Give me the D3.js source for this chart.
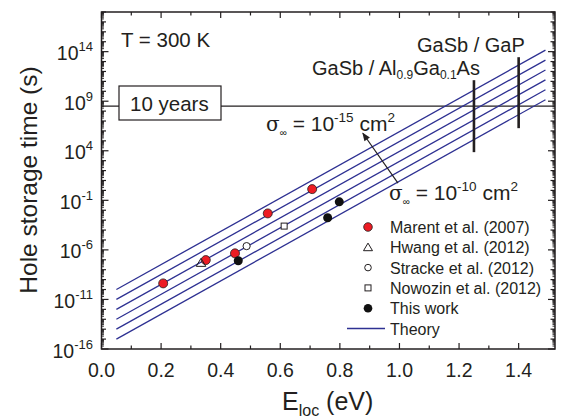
<!DOCTYPE html>
<html>
<head>
<meta charset="utf-8">
<script src="https://cdn.jsdelivr.net/npm/d3@7"></script>
<style>
  body { margin: 0; background: #fff; }
  text { font-family: "Liberation Sans", Arial, sans-serif; fill: #231f20; }
</style>
</head>
<body>
<div id="chart"></div>
<script>
//****data****
// E_loc (eV) and log10 of hole storage time (s)
const marentE = [0.207, 0.350, 0.448, 0.558, 0.707];
const marentLogT = [-9.38, -7.03, -6.35, -2.32, 0.13];
const hwangE = [0.334];
const hwangLogT = [-7.30];
const strackeE = [0.487];
const strackeLogT = [-5.62];
const nowozinE = [0.613];
const nowozinLogT = [-3.60];
const thisWorkE = [0.459, 0.759, 0.798];
const thisWorkLogT = [-7.10, -2.76, -1.15];

// theory lines, sigma = 1e-15 ... 1e-10 cm^2, endpoints
const theoryE = [0.05, 1.49];
const theorySigma = [-15, -14, -13, -12, -11, -10];
const theoryLogTStart = [-10.0, -11.0, -12.0, -13.0, -14.0, -15.0];
const theoryLogTEnd = [14.15, 13.15, 12.15, 11.15, 10.15, 9.15];

// heterostructure markers (E, log t range)
const barE = [1.25, 1.40];
const barLogLow = [3.86, 6.28];
const barLogHigh = [11.12, 13.44];

const tenYears = 3.156e8;
const xTicks = [0.0, 0.2, 0.4, 0.6, 0.8, 1.0, 1.2, 1.4];
const yTickExp = [-16, -11, -6, -1, 4, 9, 14];
const legendLabels = ["Marent et al. (2007)", "Hwang et al. (2012)", "Stracke et al. (2012)",
  "Nowozin et al. (2012)", "This work", "Theory"];

//****configuration****
const W = 564, H = 418;
const margin = {left: 101.5, right: 9, top: 12, bottom: 69};
const lineColor = "#2e3192";
const redColor = "#ed1c24";
const ink = "#231f20";

const svg = d3.select("#chart").append("svg")
  .attr("width", W).attr("height", H);

const x = d3.scaleLinear().domain([0, 1.522])
  .range([margin.left, W - margin.right]);
const y = d3.scaleLog().domain([1e-16, 1e18])
  .range([H - margin.bottom, margin.top]);
const yl = v => y(Math.pow(10, v));

const x0 = margin.left, x1 = W - margin.right;
const y0 = H - margin.bottom, y1 = margin.top;

// ten years line
svg.append("line")
  .attr("x1", x0).attr("x2", x1)
  .attr("y1", y(tenYears)).attr("y2", y(tenYears))
  .attr("stroke", ink).attr("stroke-width", 1.2);

// theory lines
theorySigma.forEach((s, i) => {
  svg.append("line")
    .attr("x1", x(theoryE[0])).attr("y1", yl(theoryLogTStart[i]))
    .attr("x2", x(theoryE[1])).attr("y2", yl(theoryLogTEnd[i]))
    .attr("stroke", lineColor).attr("stroke-width", 1.3);
});

// heterostructure bars
barE.forEach((e, i) => {
  svg.append("line")
    .attr("x1", x(e)).attr("x2", x(e))
    .attr("y1", yl(barLogLow[i])).attr("y2", yl(barLogHigh[i]))
    .attr("stroke", ink).attr("stroke-width", 2.6);
});

// 10 years box
const box = svg.append("g");
box.append("rect")
  .attr("x", 119).attr("y", 86).attr("width", 102).attr("height", 34)
  .attr("fill", "#fff").attr("stroke", ink).attr("stroke-width", 1.2);
box.append("text").attr("x", 130).attr("y", 111)
  .attr("font-size", 20.5).text("10 years");

svg.append("text").attr("x", 121).attr("y", 47)
  .attr("font-size", 20.5).text("T = 300 K");

// labels for bars
svg.append("text").attr("x", 417).attr("y", 52).attr("font-size", 20)
  .text("GaSb / GaP");
const alLabel = svg.append("text").attr("x", 312).attr("y", 75).attr("font-size", 20);
alLabel.append("tspan").text("GaSb / Al");
alLabel.append("tspan").attr("font-size", 12).attr("dy", 4).text("0.9");
alLabel.append("tspan").attr("dy", -4).text("Ga");
alLabel.append("tspan").attr("font-size", 12).attr("dy", 4).text("0.1");
alLabel.append("tspan").attr("dy", -4).text("As");

// sigma annotations
function sigmaLabel(tx, ty, expText) {
  const t = svg.append("text").attr("x", tx).attr("y", ty).attr("font-size", 21);
  t.append("tspan").attr("font-family", "DejaVu Serif, serif").attr("font-size", 20).text("σ");
  t.append("tspan").attr("font-size", 10).attr("dy", 5).text("∞");
  t.append("tspan").attr("dy", -5).text(" = 10");
  t.append("tspan").attr("font-size", 13.5).attr("dy", -9).text(expText);
  t.append("tspan").attr("dy", 9).text(" cm");
  t.append("tspan").attr("font-size", 13.5).attr("dy", -9).text("2");
}
sigmaLabel(266, 131, "-15");
sigmaLabel(389, 200, "-10");

// arrow
svg.append("defs").append("marker")
  .attr("id", "arr").attr("viewBox", "0 0 10 10")
  .attr("refX", 9).attr("refY", 5)
  .attr("markerWidth", 9).attr("markerHeight", 7)
  .attr("orient", "auto-start-reverse")
  .append("path").attr("d", "M0,1 L10,5 L0,9 Z").attr("fill", ink);
svg.append("line")
  .attr("x1", x(0.995)).attr("y1", yl(0.73))
  .attr("x2", x(0.877)).attr("y2", yl(5.77))
  .attr("stroke", ink).attr("stroke-width", 1.2)
  .attr("marker-end", "url(#arr)");

// data points
function pts(E, L) { return E.map((e, i) => [e, L[i]]); }

svg.append("g").selectAll("circle").data(pts(marentE, marentLogT)).join("circle")
  .attr("cx", d => x(d[0])).attr("cy", d => yl(d[1])).attr("r", 4.5)
  .attr("fill", redColor).attr("stroke", ink).attr("stroke-width", 0.8);

svg.append("g").selectAll("path").data(pts(hwangE, hwangLogT)).join("path")
  .attr("transform", d => `translate(${x(d[0])},${yl(d[1])})`)
  .attr("d", "M0,-4.5 L4.8,3.6 L-4.8,3.6 Z")
  .attr("fill", "none").attr("stroke", ink).attr("stroke-width", 1);

svg.append("g").selectAll("circle").data(pts(strackeE, strackeLogT)).join("circle")
  .attr("cx", d => x(d[0])).attr("cy", d => yl(d[1])).attr("r", 3.6)
  .attr("fill", "#fff").attr("stroke", ink).attr("stroke-width", 1);

svg.append("g").selectAll("rect").data(pts(nowozinE, nowozinLogT)).join("rect")
  .attr("x", d => x(d[0]) - 3).attr("y", d => yl(d[1]) - 3)
  .attr("width", 6).attr("height", 6)
  .attr("fill", "#fff").attr("stroke", ink).attr("stroke-width", 1);

svg.append("g").selectAll("circle").data(pts(thisWorkE, thisWorkLogT)).join("circle")
  .attr("cx", d => x(d[0])).attr("cy", d => yl(d[1])).attr("r", 4.5)
  .attr("fill", "#111");

// legend
const lg = svg.append("g");
const lx = 368, ly = 227, ld = 20.3;
lg.append("circle").attr("cx", lx).attr("cy", ly).attr("r", 4.3)
  .attr("fill", redColor).attr("stroke", ink).attr("stroke-width", 0.8);
lg.append("path").attr("transform", `translate(${lx},${ly + ld})`)
  .attr("d", "M0,-4.2 L4.5,3.4 L-4.5,3.4 Z")
  .attr("fill", "none").attr("stroke", ink).attr("stroke-width", 1);
lg.append("circle").attr("cx", lx).attr("cy", ly + 2 * ld).attr("r", 3.3)
  .attr("fill", "#fff").attr("stroke", ink).attr("stroke-width", 1);
lg.append("rect").attr("x", lx - 3).attr("y", ly + 3 * ld - 3).attr("width", 6).attr("height", 6)
  .attr("fill", "#fff").attr("stroke", ink).attr("stroke-width", 1);
lg.append("circle").attr("cx", lx).attr("cy", ly + 4 * ld).attr("r", 4.3).attr("fill", "#111");
lg.append("line").attr("x1", 347).attr("x2", 385)
  .attr("y1", ly + 5 * ld).attr("y2", ly + 5 * ld)
  .attr("stroke", lineColor).attr("stroke-width", 1.3);
legendLabels.forEach((t, i) => {
  lg.append("text").attr("x", 390).attr("y", ly + i * ld + 6)
    .attr("font-size", 16).text(t);
});

// frame
svg.append("rect").attr("x", x0).attr("y", y1)
  .attr("width", x1 - x0).attr("height", y0 - y1)
  .attr("fill", "none").attr("stroke", ink).attr("stroke-width", 1.5);

// x ticks (inward, top and bottom)
const xMinor = d3.range(0, 15).map(i => i / 10);
const axisG = svg.append("g").attr("stroke", ink).attr("stroke-width", 1.2);
xMinor.forEach((v, i) => {
  const len = i % 2 === 0 ? 6 : 3.5;
  axisG.append("line").attr("x1", x(v)).attr("x2", x(v)).attr("y1", y0).attr("y2", y0 - len);
  axisG.append("line").attr("x1", x(v)).attr("x2", x(v)).attr("y1", y1).attr("y2", y1 + len);
});

// y ticks (inward, left and right)
for (let e = -16; e <= 18; e++) {
  const major = (e + 16) % 5 === 0;
  const len = major ? 7 : 4.5;
  const yy = yl(e);
  axisG.append("line").attr("x1", x0).attr("x2", x0 + len).attr("y1", yy).attr("y2", yy);
  axisG.append("line").attr("x1", x1).attr("x2", x1 - len).attr("y1", yy).attr("y2", yy);
  if (e < 18) {
    for (let m = 2; m <= 9; m++) {
      const ym = y(m * Math.pow(10, e));
      axisG.append("line").attr("x1", x0).attr("x2", x0 + 2.5).attr("y1", ym).attr("y2", ym)
        .attr("stroke-width", 0.9);
      axisG.append("line").attr("x1", x1).attr("x2", x1 - 2.5).attr("y1", ym).attr("y2", ym)
        .attr("stroke-width", 0.9);
    }
  }
}

// tick labels
svg.append("g").selectAll("text").data(xTicks).join("text")
  .attr("x", d => x(d)).attr("y", y0 + 28)
  .attr("text-anchor", "middle").attr("font-size", 19.5)
  .text(d => d.toFixed(1));

yTickExp.forEach(e => {
  const t = svg.append("text").attr("x", 93).attr("y", yl(e) + 8.5)
    .attr("text-anchor", "end").attr("font-size", 19.5);
  t.append("tspan").text("10");
  t.append("tspan").attr("font-size", 13).attr("dy", -9).text(String(e));
});

// axis titles
const xt = svg.append("text").attr("x", 282).attr("y", 410).attr("font-size", 25);
xt.append("tspan").text("E");
xt.append("tspan").attr("font-size", 16).attr("dy", 6).text("loc");
xt.append("tspan").attr("dy", -6).text(" (eV)");

svg.append("text")
  .attr("transform", "translate(37,180) rotate(-90)")
  .attr("text-anchor", "middle").attr("font-size", 24.5)
  .text("Hole storage time (s)");
</script>
</body>
</html>
